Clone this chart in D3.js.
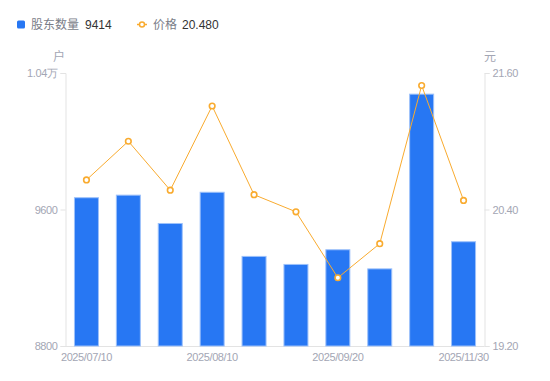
<!DOCTYPE html>
<html><head><meta charset="utf-8">
<script src="https://cdn.jsdelivr.net/npm/d3@7"></script>
<style>body{margin:0;background:#fff;}svg{display:block;font-family:"Noto Sans CJK SC","Noto Sans",sans-serif;}</style>
</head><body>
<svg id="c" width="550" height="381"></svg>
<script>
const categories = ["2025/07/10","2025/07/20","2025/07/31","2025/08/10","2025/08/20","2025/08/31","2025/09/20","2025/10/20","2025/11/10","2025/11/30"];
const holders = [9672, 9687, 9521, 9704, 9328, 9281, 9367, 9255, 10279, 9414];
const prices = [20.66, 21.00, 20.57, 21.31, 20.53, 20.38, 19.80, 20.10, 21.49, 20.48];
const leftTicks = [8800, 9600, 10400];
const leftTickLabels = ["8800", "9600", "1.04万"];
const rightTicks = [19.2, 20.4, 21.6];
const xLabelIdx = [0, 3, 6, 9];

const svg = d3.select("#c");
const m = {l: 65.5, r: 484.5, t: 73, b: 346};
const xc = d3.scaleBand().domain(categories).range([m.l, m.r]);
const yL = d3.scaleLinear().domain([8800, 10400]).range([m.b, m.t]);
const yR = d3.scaleLinear().domain([19.2, 21.6]).range([m.b, m.t]);
const grey = "#a3a6b4", axisCol = "#e3e3e3";
const numFont = "'Liberation Sans', Arial, sans-serif";

// axes
const gl = svg.append("g").attr("transform", `translate(${m.l},0)`)
  .call(d3.axisLeft(yL).tickValues(leftTicks).tickFormat((d,i)=>leftTickLabels[i]).tickSize(5).tickPadding(3));
const gr = svg.append("g").attr("transform", `translate(${m.r},0)`)
  .call(d3.axisRight(yR).tickValues(rightTicks).tickFormat(d3.format(".2f")).tickSize(5).tickPadding(3));
const gx = svg.append("g").attr("transform", `translate(0,${m.b})`)
  .call(d3.axisBottom(xc).tickValues(xLabelIdx.map(i=>categories[i])).tickSize(0).tickPadding(7));
[gl, gr, gx].forEach(g => {
  g.select(".domain").attr("stroke", axisCol);
  g.selectAll(".tick line").attr("stroke", axisCol);
  g.selectAll("text").attr("fill", grey).attr("font-size", 11).attr("letter-spacing", "-0.4px").attr("font-family", numFont);
});
gx.select(".domain").attr("d", `M${m.l},0.5H${m.r}`);

// units
svg.append("text").attr("x", 59).attr("y", 61).attr("text-anchor","middle").attr("fill", grey).attr("font-size", 12).text("户");
svg.append("text").attr("x", 490).attr("y", 61).attr("text-anchor","middle").attr("fill", grey).attr("font-size", 12).text("元");

// bars
svg.append("g").selectAll("rect").data(holders).join("rect")
  .attr("x", (d,i)=>xc(categories[i]) + xc.bandwidth()/2 - 12.5 + 0.5)
  .attr("width", 25 - 1)
  .attr("y", d=>yL(d) + 0.5)
  .attr("height", d=>m.b - yL(d) - 0.5)
  .attr("fill", "#2777f3")
  .attr("stroke", "#9dc1fa").attr("stroke-width", 1);

// line
const cx = i => xc(categories[i]) + xc.bandwidth()/2;
const orange = "#f9ab2f";
svg.append("path").datum(prices)
  .attr("d", d3.line().x((d,i)=>cx(i)).y(d=>yR(d)))
  .attr("fill","none").attr("stroke", orange).attr("stroke-width", 1);
svg.append("g").selectAll("circle").data(prices).join("circle")
  .attr("cx",(d,i)=>cx(i)).attr("cy", d=>yR(d)).attr("r", 2.8)
  .attr("fill","#fff").attr("stroke", orange).attr("stroke-width", 1.6);

// legend
const lg = svg.append("g");
lg.append("rect").attr("x",17).attr("y",20.5).attr("width",8).attr("height",8).attr("rx",1.5).attr("fill","#2777f3");
lg.append("text").attr("x",31).attr("y",29).attr("font-size",12).attr("fill","#7a7d88").text("股东数量");
lg.append("text").attr("x",85).attr("y",29).attr("font-size",12).attr("fill","#333").attr("font-family",numFont).text(holders[holders.length-1]);
lg.append("line").attr("x1",137).attr("x2",147).attr("y1",24.5).attr("y2",24.5).attr("stroke",orange).attr("stroke-width",1.5);
lg.append("circle").attr("cx",142).attr("cy",24.5).attr("r",2.5).attr("fill","#fff").attr("stroke",orange).attr("stroke-width",1.5);
lg.append("text").attr("x",153).attr("y",29).attr("font-size",12).attr("fill","#7a7d88").text("价格");
lg.append("text").attr("x",182).attr("y",29).attr("font-size",12).attr("fill","#333").attr("font-family",numFont).text(d3.format(".3f")(prices[prices.length-1]));
</script>
</body></html>
